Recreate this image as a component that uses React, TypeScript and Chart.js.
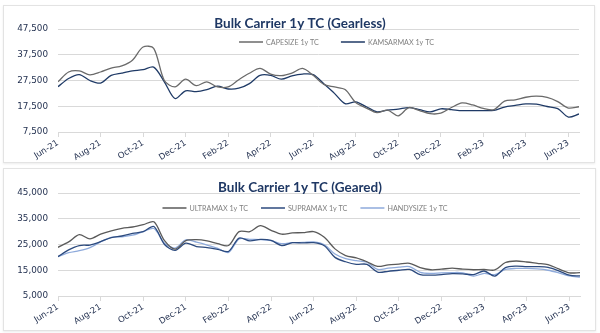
import React, { useEffect, useRef } from "react";
import { Chart, registerables } from "chart.js";

Chart.register(...registerables);

const monthLabels = ["Jun-21", "Aug-21", "Oct-21", "Dec-21", "Feb-22", "Apr-22", "Jun-22", "Aug-22", "Oct-22", "Dec-22", "Feb-23", "Apr-23", "Jun-23"];
const STEP_MONTHS = 0.5; // semi-monthly observations from Jun-21

const capesize = [27000, 30800, 31200, 29700, 30800, 32300, 33200, 35400, 40500, 40000, 27500, 25000, 28000, 25500, 27000, 25000, 25000, 27800, 30300, 32200, 30000, 29400, 30400, 32200, 29500, 26000, 25000, 24000, 19000, 16800, 15000, 16000, 13800, 17000, 15800, 14600, 14800, 17000, 18800, 18000, 16700, 16200, 19500, 20000, 21000, 21400, 20900, 19300, 16800, 17300];
const kamsarmax = [25100, 28300, 29800, 27500, 26500, 29500, 30400, 31200, 31700, 32700, 27000, 20500, 23500, 23200, 24000, 25300, 24200, 24500, 26300, 29500, 29500, 28000, 29300, 30000, 29800, 26200, 22500, 18500, 19200, 17300, 15300, 16000, 16400, 17000, 16200, 15300, 16500, 16200, 15800, 15800, 15800, 15900, 17200, 17800, 18400, 18300, 17400, 16600, 13300, 14500];

const ultramax = [23900, 26000, 28800, 27200, 29000, 30300, 31300, 31800, 32700, 33800, 26500, 23200, 26500, 26900, 26400, 25300, 24600, 30000, 30000, 32300, 30500, 29000, 29500, 29600, 30000, 27800, 23300, 20700, 19800, 18300, 16500, 17100, 17400, 17700, 16000, 15200, 15400, 15800, 15400, 15200, 15300, 15100, 18000, 18600, 18200, 17700, 17200, 15500, 14000, 14100];
const supramax = [20300, 22900, 24600, 24800, 26100, 27700, 28300, 29300, 30000, 32000, 25000, 22700, 25500, 24200, 23800, 23100, 22300, 27500, 26400, 27000, 26600, 24600, 25700, 25600, 25700, 24500, 20000, 18300, 17300, 17300, 14300, 14600, 15000, 15300, 13300, 13100, 13300, 13700, 13600, 13300, 14700, 12700, 16000, 16600, 16400, 16400, 16100, 14800, 13100, 12800];
const handysize = [20300, 21800, 22600, 23800, 26000, 27800, 28000, 28600, 30000, 31200, 25500, 23600, 26800, 25900, 24800, 23500, 21900, 27200, 27000, 26900, 26500, 25300, 25700, 25800, 26000, 24900, 21300, 19500, 18700, 18100, 15300, 15800, 16200, 16400, 14200, 13800, 14000, 14100, 14000, 12700, 13800, 13300, 15300, 15700, 15700, 15500, 15000, 14000, 12800, 12300];

const gearlessTicks = { min: 7500, max: 47500, step: 10000 };
const gearedTicks = { min: 5000, max: 45000, step: 10000 };

const NAVY = "#1F3864";
const TICK_COLOR = "#1f2d4d";
const GRID = "#d9d9d9";

const toPoints = (vals: number[]) => vals.map((y, i) => ({ x: i * STEP_MONTHS, y }));

const panelText = {
  id: "panelText",
  afterDraw(chart: any, _args: any, opts: any) {
    const ctx = chart.ctx as CanvasRenderingContext2D;
    ctx.save();
    ctx.font = `bold ${opts.titleSize}px Lato`;
    ctx.fillStyle = NAVY;
    ctx.textAlign = "center";
    ctx.textBaseline = "alphabetic";
    ctx.fillText(opts.title, opts.titleX, opts.titleY);

    ctx.font = `${opts.legendSize}px Lato`;
    const lineLen = 24;
    const gapLT = 3;
    const items = chart.data.datasets.map((ds: any) => ({
      label: ds.label as string,
      color: ds.borderColor as string,
      w: ctx.measureText(ds.label).width,
    }));
    let total = 0;
    items.forEach((it: any, i: number) => {
      total += lineLen + gapLT + it.w + (i < items.length - 1 ? opts.legendGap : 0);
    });
    let x = opts.legendCenterX - total / 2;
    const y = opts.legendY;
    ctx.textAlign = "left";
    ctx.textBaseline = "middle";
    items.forEach((it: any) => {
      ctx.strokeStyle = it.color;
      ctx.lineWidth = 1.5;
      ctx.beginPath();
      ctx.moveTo(x, y);
      ctx.lineTo(x + lineLen, y);
      ctx.stroke();
      x += lineLen + gapLT;
      ctx.fillStyle = "#7f7f7f";
      ctx.fillText(it.label, x, y + 0.5);
      x += it.w + opts.legendGap;
    });
    ctx.restore();
  },
};

function makeConfig(
  datasets: { label: string; data: number[]; color: string }[],
  yt: { min: number; max: number; step: number },
  text: any,
  padTop: number,
  xHeight: number
): any {
  return {
    type: "line",
    data: {
      datasets: datasets.map((d) => ({
        label: d.label,
        data: toPoints(d.data),
        borderColor: d.color,
        backgroundColor: d.color,
        borderWidth: 1.3,
        pointRadius: 0,
        tension: 0.3,
        fill: false,
      })),
    },
    options: {
      responsive: false,
      animation: false,
      devicePixelRatio: 1,
      layout: { padding: { left: 0, right: 16, top: padTop, bottom: 0 } },
      plugins: {
        legend: { display: false },
        title: { display: false },
        tooltip: { enabled: false },
        panelText: text,
      },
      scales: {
        x: {
          type: "linear",
          min: 0,
          max: 24.5,
          afterFit: (s: any) => {
            s.height = xHeight;
          },
          grid: { drawOnChartArea: false, drawTicks: true, tickLength: 5, color: GRID },
          border: { display: true, color: GRID },
          ticks: {
            stepSize: 2,
            includeBounds: false,
            autoSkip: false,
            minRotation: 32,
            maxRotation: 32,
            padding: 1,
            color: TICK_COLOR,
            font: { family: "DejaVu Sans", size: 8.5 },
            callback: (v: number) => (Number.isInteger(v / 2) ? monthLabels[v / 2] : ""),
          },
        },
        y: {
          min: yt.min,
          max: yt.max,
          afterFit: (s: any) => {
            s.width = 55;
          },
          grid: { color: GRID, drawTicks: false },
          border: { display: false },
          ticks: {
            stepSize: yt.step,
            padding: 10,
            color: TICK_COLOR,
            font: { family: "DejaVu Sans", size: 8.8 },
            callback: (v: number) => v.toLocaleString("en-US"),
          },
        },
      },
    },
    plugins: [panelText],
  };
}

function Panel({ left, top, width, height, config }: any) {
  const ref = useRef<HTMLCanvasElement>(null);
  useEffect(() => {
    const chart = new Chart(ref.current as HTMLCanvasElement, config);
    return () => chart.destroy();
  }, []);
  return (
    <div
      style={{
        position: "absolute",
        left,
        top,
        width,
        height,
        boxSizing: "border-box",
        border: "1px solid #e3e3e3",
        boxShadow: "0 1px 2px rgba(0,0,0,0.08)",
        background: "#fff",
      }}
    >
      <canvas
        ref={ref}
        width={width}
        height={height}
        style={{ position: "absolute", left: -1, top: -1, width, height }}
      />
    </div>
  );
}

export default function App() {
  const topCfg = makeConfig(
    [
      { label: "CAPESIZE 1y TC", data: capesize, color: "#6a6a6a" },
      { label: "KAMSARMAX 1y TC", data: kamsarmax, color: "#1f3a66" },
    ],
    gearlessTicks,
    {
      title: "Bulk Carrier 1y TC (Gearless)",
      titleSize: 13.5,
      titleX: 297,
      titleY: 23,
      legendSize: 7.2,
      legendCenterX: 333.5,
      legendY: 37,
      legendGap: 22,
    },
    24,
    31
  );
  const bottomCfg = makeConfig(
    [
      { label: "ULTRAMAX 1y TC", data: ultramax, color: "#5a5a5a" },
      { label: "SUPRAMAX 1y TC", data: supramax, color: "#2c4a7e" },
      { label: "HANDYSIZE 1y TC", data: handysize, color: "#8eaadb" },
    ],
    gearedTicks,
    {
      title: "Bulk Carrier 1y TC (Geared)",
      titleSize: 13.5,
      titleX: 297,
      titleY: 24,
      legendSize: 7.2,
      legendCenterX: 302,
      legendY: 40,
      legendGap: 13,
    },
    25,
    35
  );
  return (
    <div style={{ position: "absolute", left: 0, top: 0, width: 600, height: 333, background: "#fff" }}>
      <Panel left={3} top={5} width={592} height={158} config={topCfg} />
      <Panel left={3} top={168} width={593} height={163} config={bottomCfg} />
    </div>
  );
}
